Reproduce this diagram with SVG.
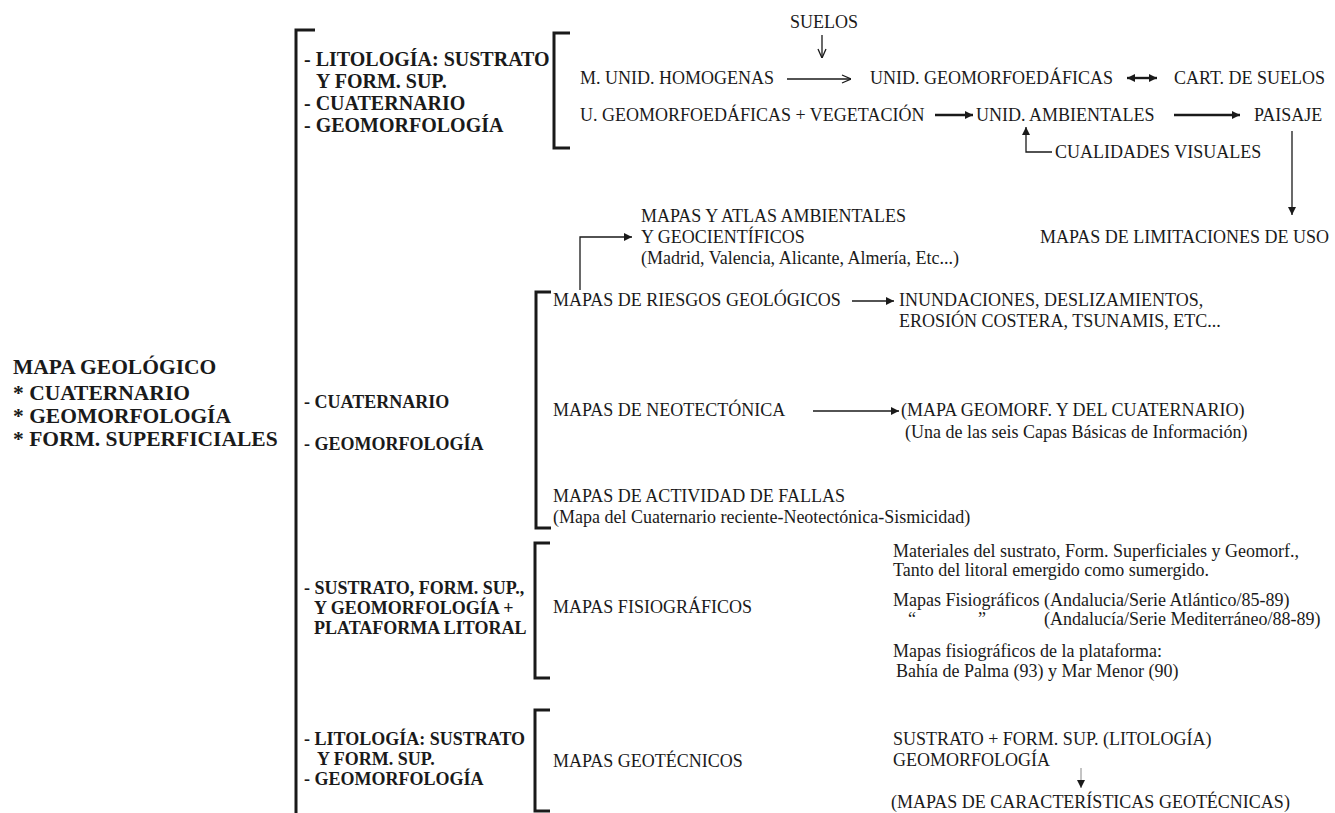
<svg xmlns="http://www.w3.org/2000/svg" width="1335" height="813" viewBox="0 0 1335 813">
<defs>
<style>
text{font-family:"Liberation Serif","Times New Roman",serif;fill:#1a1a1a}
.r{font-size:18px}
.b{font-size:20px;font-weight:bold}
.bs{font-size:18px;font-weight:bold}
.t{font-size:21.5px;font-weight:bold}
.br{fill:none;stroke:#1a1a1a;stroke-width:3}
.c{fill:none;stroke:#1a1a1a;stroke-width:1.3}
.cb{fill:none;stroke:#1a1a1a;stroke-width:2.4}
</style>
<marker id="ah" viewBox="0 0 10 10" refX="10" refY="5" markerWidth="10" markerHeight="8" markerUnits="userSpaceOnUse" orient="auto-start-reverse"><path d="M0,0 L10,5 L0,10 z" fill="#1a1a1a"/></marker>
<marker id="ao" viewBox="0 0 10 10" refX="10" refY="5" markerWidth="10" markerHeight="10" markerUnits="userSpaceOnUse" orient="auto"><path d="M1,1 L10,5 L1,9" fill="none" stroke="#1a1a1a" stroke-width="1.3"/></marker>
</defs>
<rect width="1335" height="813" fill="#ffffff"/>

<g id="main-title">
<text class="t" x="13" y="374">MAPA GEOLÓGICO</text>
<text class="t" x="13" y="400">* CUATERNARIO</text>
<text class="t" x="13" y="423">* GEOMORFOLOGÍA</text>
<text class="t" x="13" y="446">* FORM. SUPERFICIALES</text>
</g>

<g id="brackets">
<path class="br" d="M315,30 H296 V813"/>
<path class="br" d="M570,33 H554 V148 H570"/>
<path class="br" d="M551,292 H536 V528 H551"/>
<path class="br" d="M550,543 H535 V678 H550"/>
<path class="br" d="M550,710 H535 V811 H550"/>
</g>

<g id="group-1">
<text class="b" x="304" y="66">- LITOLOGÍA: SUSTRATO</text>
<text class="b" x="316" y="88">Y FORM. SUP.</text>
<text class="b" x="304" y="110">- CUATERNARIO</text>
<text class="b" x="304" y="132">- GEOMORFOLOGÍA</text>
</g>

<g id="suelos"><text class="r" x="790" y="28">SUELOS</text></g>
<g id="m-unid"><text class="r" x="580" y="84">M. UNID. HOMOGENAS</text></g>
<g id="unid-geo"><text class="r" x="870" y="84">UNID. GEOMORFOEDÁFICAS</text></g>
<g id="cart-suelos"><text class="r" x="1174" y="84">CART. DE SUELOS</text></g>
<g id="u-geo-veg"><text class="r" x="580" y="121">U. GEOMORFOEDÁFICAS + VEGETACIÓN</text></g>
<g id="unid-amb"><text class="r" x="976" y="121">UNID. AMBIENTALES</text></g>
<g id="paisaje"><text class="r" x="1254" y="121">PAISAJE</text></g>
<g id="cualidades"><text class="r" x="1055" y="158">CUALIDADES VISUALES</text></g>
<g id="limitaciones"><text class="r" x="1040" y="243">MAPAS DE LIMITACIONES DE USO</text></g>

<g id="atlas">
<text class="r" x="641" y="222">MAPAS Y ATLAS AMBIENTALES</text>
<text class="r" x="641" y="243">Y GEOCIENTÍFICOS</text>
<text class="r" x="641" y="264">(Madrid, Valencia, Alicante, Almería, Etc...)</text>
</g>

<g id="group-2">
<text class="bs" x="304" y="408">- CUATERNARIO</text>
<text class="bs" x="304" y="450">- GEOMORFOLOGÍA</text>
</g>

<g id="riesgos"><text class="r" x="553" y="306">MAPAS DE RIESGOS GEOLÓGICOS</text></g>
<g id="inundaciones">
<text class="r" x="899" y="306">INUNDACIONES, DESLIZAMIENTOS,</text>
<text class="r" x="899" y="327">EROSIÓN COSTERA, TSUNAMIS, ETC...</text>
</g>
<g id="neotectonica"><text class="r" x="553" y="416">MAPAS DE NEOTECTÓNICA</text></g>
<g id="mapa-geomorf">
<text class="r" x="901" y="416">(MAPA GEOMORF. Y DEL CUATERNARIO)</text>
<text class="r" x="905" y="438">(Una de las seis Capas Básicas de Información)</text>
</g>
<g id="fallas">
<text class="r" x="553" y="502">MAPAS DE ACTIVIDAD DE FALLAS</text>
<text class="r" x="553" y="523">(Mapa del Cuaternario reciente-Neotectónica-Sismicidad)</text>
</g>

<g id="group-3">
<text class="bs" x="304" y="594">- SUSTRATO, FORM. SUP.,</text>
<text class="bs" x="314" y="614">Y GEOMORFOLOGÍA +</text>
<text class="bs" x="314" y="634">PLATAFORMA LITORAL</text>
</g>
<g id="fisiograficos"><text class="r" x="553" y="613">MAPAS FISIOGRÁFICOS</text></g>
<g id="fisio-notes">
<text class="r" x="893" y="557">Materiales del sustrato, Form. Superficiales y Geomorf.,</text>
<text class="r" x="893" y="576">Tanto del litoral emergido como sumergido.</text>
<text class="r" x="893" y="606">Mapas Fisiográficos (Andalucia/Serie Atlántico/85-89)</text>
<text class="r" x="908" y="625">“</text>
<text class="r" x="978" y="625">”</text>
<text class="r" x="1044" y="625">(Andalucía/Serie Mediterráneo/88-89)</text>
<text class="r" x="893" y="657">Mapas fisiográficos de la plataforma:</text>
<text class="r" x="896" y="677">Bahía de Palma (93) y Mar Menor (90)</text>
</g>

<g id="group-4">
<text class="bs" x="304" y="745">- LITOLOGÍA: SUSTRATO</text>
<text class="bs" x="317" y="765">Y FORM. SUP.</text>
<text class="bs" x="304" y="785">- GEOMORFOLOGÍA</text>
</g>
<g id="geotecnicos"><text class="r" x="553" y="767">MAPAS GEOTÉCNICOS</text></g>
<g id="geotec-notes">
<text class="r" x="893" y="745">SUSTRATO + FORM. SUP. (LITOLOGÍA)</text>
<text class="r" x="893" y="766">GEOMORFOLOGÍA</text>
<text class="r" x="891" y="808">(MAPAS DE CARACTERÍSTICAS GEOTÉCNICAS)</text>
</g>

<g id="connectors">
<line class="c" x1="822" y1="35" x2="822" y2="58" marker-end="url(#ao)"/>
<line class="c" x1="787" y1="79" x2="851" y2="79" marker-end="url(#ao)"/>
<line class="cb" x1="1127" y1="78" x2="1157" y2="78" marker-start="url(#ah)" marker-end="url(#ah)"/>
<line class="cb" x1="935" y1="115" x2="973" y2="115" marker-end="url(#ah)"/>
<line class="cb" x1="1174" y1="115" x2="1240" y2="115" marker-end="url(#ah)"/>
<polyline class="c" points="1052,152 1026,152 1026,127" marker-end="url(#ah)"/>
<line class="c" x1="1292" y1="131" x2="1292" y2="215" marker-end="url(#ah)"/>
<polyline class="c" points="580,290 580,237 632,237" marker-end="url(#ah)"/>
<line class="c" x1="852" y1="301" x2="894" y2="301" marker-end="url(#ah)"/>
<line class="c" x1="813" y1="411" x2="899" y2="411" marker-end="url(#ah)"/>
<line stroke="#888" stroke-width="1" x1="1081" y1="768" x2="1081" y2="788" marker-end="url(#ah)"/>
</g>
</svg>
